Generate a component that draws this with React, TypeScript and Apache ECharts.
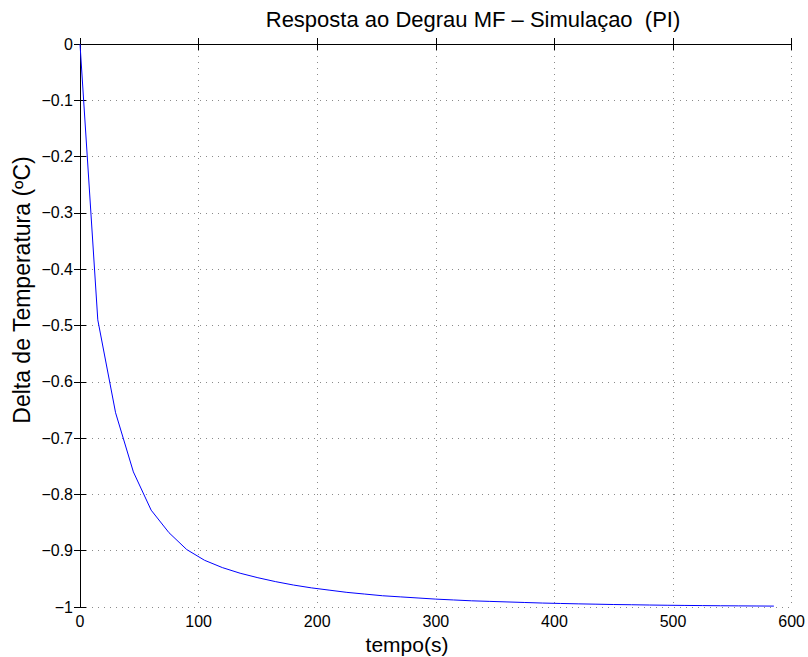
import React, { useEffect, useRef } from "react";
import * as echarts from "echarts";

const timeSeconds: number[] = [
  0, 15, 30, 45, 60, 75, 90, 105, 120, 135, 150, 165, 180, 195, 210, 225, 240,
  255, 270, 285, 300, 315, 330, 345, 360, 375, 390, 405, 420, 435, 450, 465,
  480, 495, 510, 525, 540, 555, 570, 585,
];
const deltaTemp: number[] = [
  0, -0.49, -0.655, -0.76, -0.828, -0.868, -0.898, -0.917, -0.93, -0.94,
  -0.948, -0.955, -0.961, -0.966, -0.97, -0.974, -0.977, -0.98, -0.982,
  -0.984, -0.986, -0.9875, -0.989, -0.99, -0.991, -0.992, -0.993, -0.9937,
  -0.9944, -0.995, -0.9956, -0.996, -0.9965, -0.9969, -0.9972, -0.9975,
  -0.9978, -0.998, -0.9982, -0.9984,
];
const titleText = "Resposta ao Degrau MF \u2013 Simula\u00e7ao  (PI)";
const xLabel = "tempo(s)";
const yLabel = "Delta de Temperatura (\u00baC)";

const FONT = "'Liberation Sans', Arial, Helvetica, sans-serif";

function fmtY(v: number): string {
  const r = Math.round(v * 10) / 10;
  if (r === 0) return "0";
  let s = r === Math.round(r) ? String(Math.round(r)) : r.toFixed(1);
  return s.replace("-", "\u2212");
}

export default function App() {
  const ref = useRef<HTMLDivElement>(null);
  useEffect(() => {
    if (!ref.current) return;
    const chart = echarts.init(ref.current, undefined, { renderer: "svg" });
    const grid = { left: 80, top: 44, width: 713, height: 563 };
    const gridLine = {
      show: true,
      lineStyle: { color: "#8a8a8a", width: 1, type: [1, 5] as any },
    };
    chart.setOption({
      animation: false,
      backgroundColor: "#ffffff",
      graphic: [
        {
          type: "text",
          x: 473,
          y: 19,
          style: {
            text: titleText,
            fontFamily: FONT,
            fontSize: 22,
            fill: "#000",
            align: "center",
            verticalAlign: "middle",
          },
        },
        {
          type: "text",
          x: 407,
          y: 644,
          style: {
            text: xLabel,
            fontFamily: FONT,
            fontSize: 21,
            fill: "#000",
            align: "center",
            verticalAlign: "middle",
          },
        },
        {
          type: "text",
          x: 22,
          y: 290,
          rotation: Math.PI / 2,
          style: {
            text: yLabel,
            fontFamily: FONT,
            fontSize: 23,
            fill: "#000",
            align: "center",
            verticalAlign: "middle",
          },
        },
      ],
      grid,
      xAxis: [
        {
          type: "value",
          min: 0,
          max: 600,
          interval: 100,
          position: "bottom",
          axisLine: { show: true, lineStyle: { color: "#000", width: 1 } },
          axisTick: { show: true, inside: true, length: 6, lineStyle: { color: "#000" } },
          axisLabel: { fontFamily: FONT, fontSize: 16, color: "#000", margin: 6 },
          splitLine: gridLine,
        },
        {
          type: "value",
          min: 0,
          max: 600,
          interval: 100,
          position: "top",
          axisLine: { show: true, lineStyle: { color: "#000", width: 1 } },
          axisTick: { show: true, inside: true, length: 6, lineStyle: { color: "#000" } },
          axisLabel: { show: false },
          splitLine: { show: false },
        },
      ],
      yAxis: [
        {
          type: "value",
          min: -1,
          max: 0,
          interval: 0.1,
          position: "left",
          axisLine: { show: true, lineStyle: { color: "#000", width: 1 } },
          axisTick: { show: true, inside: true, length: 6, lineStyle: { color: "#000" } },
          axisLabel: {
            fontFamily: FONT,
            fontSize: 16,
            color: "#000",
            margin: 7,
            formatter: (v: number) => fmtY(v),
          },
          splitLine: gridLine,
        },
        {
          type: "value",
          min: -1,
          max: 0,
          interval: 0.1,
          position: "right",
          axisLine: { show: true, lineStyle: { color: "#000", width: 1 } },
          axisTick: { show: true, inside: true, length: 6, lineStyle: { color: "#000" } },
          axisLabel: { show: false },
          splitLine: { show: false },
        },
      ],
      series: [
        {
          type: "line",
          xAxisIndex: 0,
          yAxisIndex: 0,
          data: timeSeconds.map((t, i) => [t, deltaTemp[i]]),
          showSymbol: false,
          symbol: "none",
          lineStyle: { color: "#0000ff", width: 1 },
          z: 5,
        },
      ],
    });
    return () => chart.dispose();
  }, []);
  return (
    <div
      ref={ref}
      style={{ position: "absolute", left: 0, top: 0, width: 808, height: 657 }}
    />
  );
}
